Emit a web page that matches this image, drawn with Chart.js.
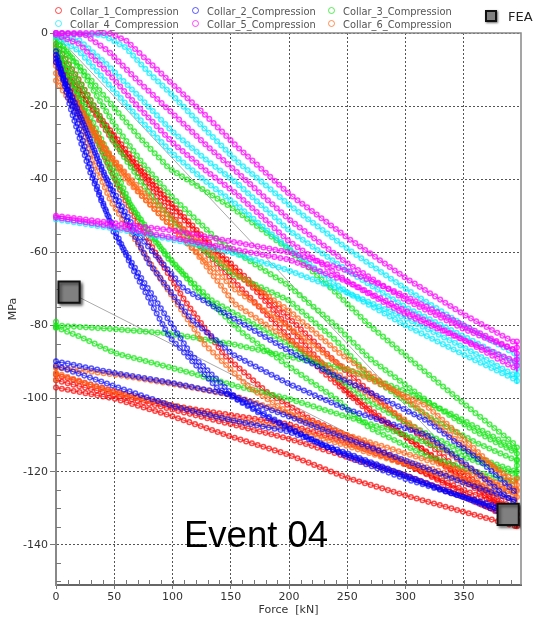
<!DOCTYPE html>
<html>
<head>
<meta charset="utf-8">
<script src="https://cdn.jsdelivr.net/npm/chart.js@4.4.0/dist/chart.umd.min.js"></script>
<style>
  body { margin: 0; background: #fff; }
  #wrap { position: relative; width: 538px; height: 619px; }
  #chart { position: absolute; left: 0; top: 0; }
  .legText { position: absolute; font: 9.9px "DejaVu Sans", sans-serif; color: #555; line-height: 13px; white-space: nowrap; }
  .legRing { position: absolute; width: 5px; height: 5px; border: 1.4px solid; border-radius: 50%; }
  #feaBox { position: absolute; left: 485px; top: 10px; width: 8px; height: 8px; background: #808080; border: 2px solid #111; box-shadow: 1px 1px 2px rgba(0,0,0,0.6); }
  #feaText { position: absolute; left: 508px; top: 9px; font: 13px "DejaVu Sans", sans-serif; color: #222; line-height: 16px; }
  #eventText { position: absolute; left: 184px; top: 517px; font: 36.5px "Liberation Sans", Arial, sans-serif; color: #000; line-height: 36px; white-space: nowrap; }
</style>
</head>
<body>
<div id="wrap">
  <canvas id="chart" width="538" height="619"></canvas>
  <div id="legend"></div>
  <div id="feaBox"></div>
  <div id="feaText">FEA</div>
  <div id="eventText">Event 04</div>
</div>
<script>
// ============================
// Data (Force kN, stress MPa)
// ============================
const seriesNames = ["Collar_1_Compression", "Collar_2_Compression", "Collar_3_Compression",
                     "Collar_4_Compression", "Collar_5_Compression", "Collar_6_Compression"];

const xTickValues = [0, 50, 100, 150, 200, 250, 300, 350];
const yTickValues = [0, -20, -40, -60, -80, -100, -120, -140];
const xMax = 399;
const yMin = -151;

// Collar 1 (red)
const collar1Lines = [
  [[0,-4],[14,-15],[36,-30],[58,-45],[85,-60],[110,-73],[144,-88],[180,-98],[220,-106],[270,-113],[320,-121],[395.5,-134]],
  [[0,-3],[20,-13],[40,-24],[70,-36],[100,-47],[130,-57],[160,-66],[200,-78],[240,-90],[290,-104],[340,-118],[395.5,-131]],
  [[0,-6],[25,-18],[50,-30],[80,-42],[110,-54],[150,-67],[190,-80],[230,-93],[270,-104],[320,-115],[360,-124],[395.5,-132]],
  [[0,-8],[30,-20],[60,-33],[95,-46],[130,-58],[170,-70],[210,-84],[250,-98],[290,-108],[340,-120],[395.5,-133]],
  [[0,-93.5],[50,-98],[100,-102],[150,-104.5],[199,-107],[250,-112],[300,-118],[350,-125],[395.5,-131]],
  [[0,-95],[50,-99],[100,-103],[150,-107],[200,-111],[250,-116],[300,-121],[350,-127],[395.5,-133]],
  [[0,-97],[50,-100],[99.5,-104.8],[149,-110.3],[199,-115.3],[249,-121.6],[300,-126.5],[350,-131],[395.5,-135]],
  [[395.5,-130],[395.5,-135.5]]
];

// Collar 2 (blue)
const collar2Lines = [
  [[0,-5],[12,-20],[28,-37],[39,-46],[65,-64],[97,-83],[138,-97],[180,-105],[230,-113],[290,-120],[340,-126],[395.5,-131]],
  [[0,-6],[16,-22],[33,-40],[50,-55],[75,-68],[116,-88],[155,-100],[200,-108],[250,-116],[300,-122],[350,-127],[395.5,-133]],
  [[0,-7],[20,-22],[40,-38],[70,-55],[110,-70],[152,-78],[200,-87],[235,-93],[280,-100],[318,-106],[360,-116],[395.5,-126]],
  [[0,-8],[25,-26],[50,-45],[80,-63],[115,-78],[152,-88],[200,-96],[250,-103],[318,-110],[360,-120],[395.5,-129]],
  [[0,-89.8],[50,-93],[99.5,-95.7],[149,-98.9],[199,-104.8],[250,-111],[300,-117],[350,-123],[395.5,-128]],
  [[0,-91],[50,-96.6],[99.5,-102],[149,-105.8],[199,-109],[250,-115],[300,-121],[350,-127],[395.5,-132]]
];

// Collar 3 (green)
const collar3Lines = [
  [[0,-2],[20,-9],[42,-17.5],[70,-28],[97,-37],[152,-48],[199,-59],[240,-71],[269,-80],[318,-93],[360,-104],[395.5,-113]],
  [[0,-1],[25,-12],[50,-25],[75,-36],[100,-45],[140,-57],[199,-69],[240,-80],[269,-89],[320,-101],[360,-109],[395.5,-115]],
  [[0,-3],[25,-16],[50,-30],[80,-44],[110,-55],[152,-66],[199,-73],[240,-84],[269,-94],[320,-105],[360,-112],[395.5,-117]],
  [[0,-4],[22,-18],[45,-33],[64,-47],[97,-62],[133,-73],[199,-85],[240,-94],[269,-101],[320,-110],[360,-116],[395.5,-120]],
  [[0,-5],[25,-22],[50,-40],[80,-55],[120,-70],[160,-82],[199,-91],[240,-100],[269,-108],[320,-116],[360,-120],[395.5,-123]],
  [[0,-80],[50,-81],[97,-82.2],[150,-85],[199,-88.5],[250,-92],[300,-98],[350,-106],[395.5,-114]],
  [[0,-80.5],[20,-83],[50,-87.5],[110,-92.5],[155,-96.6],[199,-100],[250,-105],[300,-110],[350,-116],[395.5,-121]],
  [[0,-79],[0,-81]],
  [[395.5,-113.4],[395.5,-123]]
];

// Collar 4 (cyan)
const collar4Lines = [
  [[0,0],[40,-0.5],[60,-4],[80,-11],[100,-17],[130,-27],[155,-35],[200,-47],[250,-59],[300,-70],[350,-80],[395.5,-88]],
  [[0,-0.5],[20,-2],[45,-9],[70,-17],[100,-27],[130,-35],[155,-41],[200,-54],[250,-65],[300,-75],[350,-83],[395.5,-90.5]],
  [[0,-1],[20,-5],[45,-14],[70,-23],[100,-33],[130,-41],[155,-47],[200,-59],[250,-71],[300,-80],[350,-88],[395.5,-95]],
  [[0,-51],[50,-53.5],[100,-56.5],[150,-60],[200,-65],[250,-71],[300,-78],[350,-86],[395.5,-94]],
  [[395.5,-88.6],[395.5,-96]]
];

// Collar 5 (magenta)
const collar5Lines = [
  [[0,0],[45,0],[60,-2],[80,-8],[100,-14],[130,-23],[155,-31],[200,-44],[250,-56],[300,-67],[350,-77],[395.5,-85]],
  [[0,0],[25,-0.5],[45,-5],[70,-13],[100,-22],[130,-31],[155,-38],[200,-51],[250,-63],[300,-73],[350,-81],[395.5,-87]],
  [[0,-0.5],[20,-3],[45,-11],[70,-20],[100,-30],[130,-38],[155,-44],[200,-57],[250,-68],[300,-77],[350,-84],[395.5,-90]],
  [[0,-50],[50,-52],[100,-54],[150,-57],[200,-60],[250,-65],[300,-72],[350,-80],[395.5,-87]],
  [[0,-50.5],[50,-53],[100,-56],[150,-59],[200,-62],[250,-68],[300,-76],[350,-84],[395.5,-92]],
  [[395.5,-84.4],[395.5,-92.6]]
];

// Collar 6 (orange)
const collar6Lines = [
  [[0,-7],[15,-18],[32,-35],[47,-46],[83,-64],[127,-85],[166,-97],[210,-106],[260,-113],[310,-118],[360,-123],[395.5,-126]],
  [[0,-9],[20,-20],[45,-33],[70,-42],[100,-51],[130,-59],[155,-66],[200,-76],[245,-88],[300,-100],[350,-113],[395.5,-123]],
  [[0,-11],[25,-23],[50,-35],[75,-45],[105,-55],[153,-70],[202,-81],[244,-91],[318,-102],[360,-114],[395.5,-125]],
  [[0,-13],[30,-27],[60,-40],[90,-50],[120,-60],[153,-74],[200,-84],[250,-95],[300,-106],[350,-118],[395.5,-127]],
  [[0,-91.5],[50,-93.4],[100,-96],[150,-99],[199,-104],[250,-110],[300,-115],[350,-120],[395.5,-125]],
  [[0,-93],[50,-98.4],[99.5,-101.7],[149,-105.8],[199,-108],[250,-113],[300,-118],[350,-123],[395.5,-128]],
  [[0,-91.5],[0,-95]],
  [[395.5,-122],[395.5,-128.5]]
];

// FEA points
const feaForce = [11.2, 388];
const feaStress = [-70.9, -131.7];
const feaGuideForce = [0, 388];
const feaGuideStress = [-0.5, -131.7];

// ============================
// Styles
// ============================
const seriesColors = ["rgba(255,0,0,0.72)", "rgba(0,0,255,0.65)", "rgba(20,230,20,0.72)",
                      "rgba(0,235,255,0.72)", "rgba(255,0,255,0.72)", "rgba(255,100,20,0.72)"];
const allLines = [collar1Lines, collar2Lines, collar3Lines, collar4Lines, collar5Lines, collar6Lines];

// ============================
// Build datasets
// ============================
const datasets = [];

datasets.push({
  label: "FEA",
  data: feaForce.map((f, i) => ({ x: f, y: feaStress[i] })),
  showLine: false,
  pointStyle: "rect",
  pointRadius: 15,
  pointBackgroundColor: "#808080",
  pointBorderColor: "#111",
  pointBorderWidth: 2,
  shadow: true
});

// first pushed is drawn on top
const drawOrder = [4, 3, 1, 5, 2, 0];
drawOrder.forEach((s) => {
  allLines[s].forEach((line) => {
    datasets.push({
      label: seriesNames[s],
      data: line.map((p) => ({ x: p[0], y: p[1] })),
      borderColor: seriesColors[s],
      borderWidth: 1,
      pointRadius: 0,
      tension: 0,
      beads: true
    });
  });
});

datasets.push({
  label: "FEA",
  data: feaForce.map((f, i) => ({ x: f, y: feaStress[i] })),
  borderColor: "#aaaaaa",
  borderWidth: 1,
  pointRadius: 0
});
datasets.push({
  label: "FEA",
  data: feaGuideForce.map((f, i) => ({ x: f, y: feaGuideStress[i] })),
  borderColor: "#aaaaaa",
  borderWidth: 1,
  pointRadius: 0
});

// ============================
// Plugins
// ============================
const beadPlugin = {
  id: "beads",
  beforeDatasetDraw(chart, args) {
    const ds = chart.data.datasets[args.index];
    if (ds.shadow) {
      chart.ctx.save();
      chart.ctx.shadowColor = "rgba(0,0,0,0.55)";
      chart.ctx.shadowOffsetX = 2;
      chart.ctx.shadowOffsetY = 2;
      chart.ctx.shadowBlur = 3;
    }
  },
  afterDatasetDraw(chart, args) {
    const ds = chart.data.datasets[args.index];
    const ctx = chart.ctx;
    if (ds.shadow) { ctx.restore(); return; }
    if (!ds.beads) return;
    const pts = args.meta.data;
    const gap = 6;
    ctx.save();
    ctx.strokeStyle = ds.borderColor;
    ctx.lineWidth = 1.5;
    let carry = 0;
    for (let i = 1; i < pts.length; i++) {
      const a = pts[i - 1], b = pts[i];
      const dx = b.x - a.x, dy = b.y - a.y;
      const len = Math.hypot(dx, dy);
      let d = carry;
      while (d <= len) {
        const t = len ? d / len : 0;
        ctx.beginPath();
        ctx.arc(a.x + dx * t, a.y + dy * t, 2.3, 0, Math.PI * 2);
        ctx.stroke();
        d += gap;
      }
      carry = d - len;
    }
    ctx.restore();
  }
};

const framePlugin = {
  id: "frame",
  beforeDatasetsDraw(chart) {
    const { ctx, chartArea: a, scales } = chart;
    const x = scales.x, y = scales.y;
    ctx.save();
    ctx.strokeStyle = "#777";
    ctx.lineWidth = 1;
    ctx.beginPath();
    for (let v = -5; v > yMin; v -= 5) {
      if (v % 20 === 0) continue;
      const py = Math.round(y.getPixelForValue(v)) + 0.5;
      ctx.moveTo(a.left, py);
      ctx.lineTo(a.left + 5, py);
    }
    for (let v = 10; v < xMax; v += 10) {
      const px = Math.round(x.getPixelForValue(v)) + 0.5;
      ctx.moveTo(px, a.bottom);
      ctx.lineTo(px, a.bottom - 5);
    }
    ctx.stroke();
    ctx.strokeStyle = "#888";
    ctx.lineWidth = 1.5;
    ctx.beginPath();
    ctx.moveTo(a.left, a.top);
    ctx.lineTo(a.right, a.top);
    ctx.lineTo(a.right, a.bottom);
    ctx.stroke();
    ctx.restore();
  }
};

// ============================
// Chart
// ============================
const tickFont = { family: "DejaVu Sans", size: 11 };

new Chart(document.getElementById("chart"), {
  type: "line",
  data: { datasets: datasets },
  options: {
    responsive: false,
    animation: false,
    events: [],
    layout: { padding: { top: 33, right: 1, left: 0, bottom: 0 } },
    plugins: { legend: { display: false }, tooltip: { enabled: false } },
    scales: {
      x: {
        type: "linear",
        min: 0,
        max: xMax,
        afterFit(s) { s.height = 34; },
        afterBuildTicks(s) { s.ticks = xTickValues.map((v) => ({ value: v })); },
        ticks: { font: tickFont, color: "#333", padding: 2, maxRotation: 0, autoSkip: false, callback: (v) => String(v) },
        grid: { color: "#555", lineWidth: 1, tickLength: 4, tickColor: "#777" },
        border: { color: "#666", width: 2, dash: [2, 2] },
        title: { display: true, text: "Force  [kN]", font: tickFont, color: "#333", padding: { top: 0, bottom: 2 } }
      },
      y: {
        type: "linear",
        min: yMin,
        max: 0,
        afterFit(s) { s.width = 56; },
        afterBuildTicks(s) { s.ticks = yTickValues.map((v) => ({ value: v })); },
        ticks: { font: tickFont, color: "#333", padding: 2, autoSkip: false, callback: (v) => String(v) },
        grid: { color: "#555", lineWidth: 1, tickLength: 6, tickColor: "#777" },
        border: { color: "#888", width: 2, dash: [2, 2] },
        title: { display: true, text: "MPa", font: tickFont, color: "#333", padding: { top: 7, bottom: 0 } }
      }
    }
  },
  plugins: [beadPlugin, framePlugin]
});

// ============================
// Legend
// ============================
const legendCols = [59, 196, 332];
const legendRows = [11, 24];
const legendEl = document.getElementById("legend");
seriesNames.forEach((name, i) => {
  const cx = legendCols[i % 3];
  const cy = legendRows[Math.floor(i / 3)];
  const ring = document.createElement("div");
  ring.className = "legRing";
  ring.style.left = (cx - 3.9) + "px";
  ring.style.top = (cy - 3.9) + "px";
  ring.style.borderColor = seriesColors[i];
  legendEl.appendChild(ring);
  const txt = document.createElement("div");
  txt.className = "legText";
  txt.style.left = (cx + 11) + "px";
  txt.style.top = (cy - 6.5) + "px";
  txt.textContent = name;
  legendEl.appendChild(txt);
});
</script>
</body>
</html>
